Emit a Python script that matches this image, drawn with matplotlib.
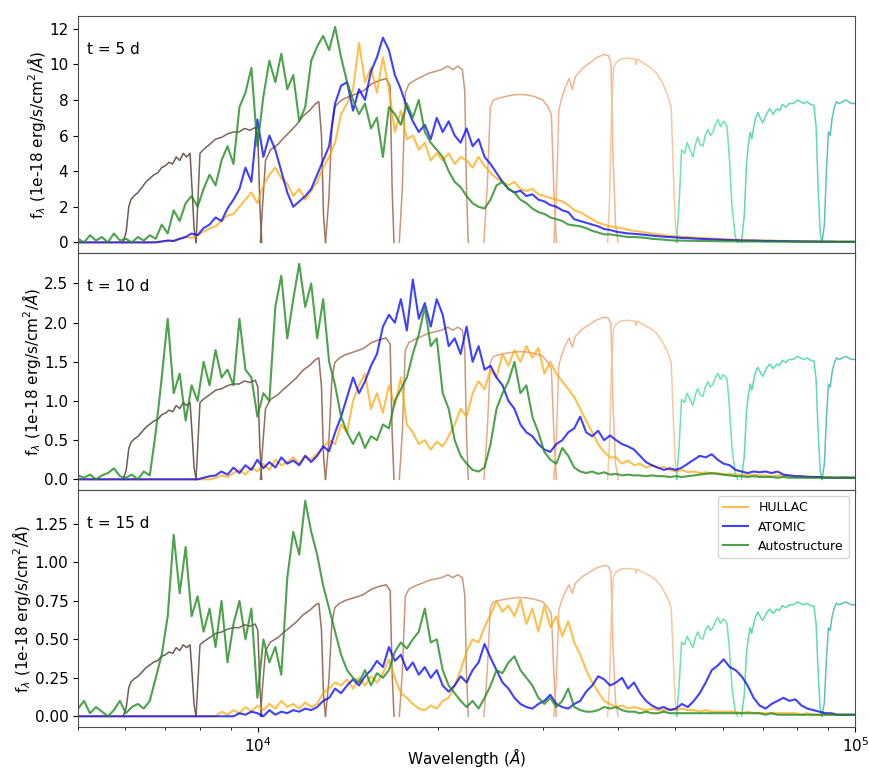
import numpy as np
import matplotlib
matplotlib.use("Agg")
import matplotlib.pyplot as plt
from matplotlib.ticker import MultipleLocator

# common log-spaced wavelength grid (Angstrom), 131 samples from 5000 to 1e5
wave = np.geomspace(5000, 1e5, 131)

epochs = ['t = 5 d', 't = 10 d', 't = 15 d']

# ---- t = 5 d ----
hullac_5 = [0, 0, 0, 0, 0, 0, 0, 0, 0, 0,
            0, 0, 0, 0.02, 0.05, 0.1, 0.08, 0.2, 0.3, 0.25,
            0.4, 0.6, 0.8, 0.9, 1.2, 1.5, 1.6, 2.0, 2.4, 2.8,
            2.2, 3.2, 3.8, 4.2, 3.6, 3.3, 2.6, 3.0, 2.4, 2.9,
            3.4, 4.2, 4.8, 5.6, 7.2, 7.8, 8.6, 11.2, 9.0, 9.8,
            8.4, 10.4, 8.6, 6.2, 7.4, 5.8, 6.0, 5.2, 5.6, 4.6,
            5.0, 4.6, 5.0, 4.4, 4.8, 4.6, 4.2, 4.8, 4.3, 3.9,
            3.6, 3.4, 3.2, 3.4, 3.0, 2.9, 3.0, 2.7, 2.6, 2.5,
            2.4, 2.3, 2.1, 1.8, 1.7, 1.5, 1.3, 1.1, 1.0, 0.9,
            0.85, 0.8, 0.7, 0.65, 0.6, 0.55, 0.5, 0.45, 0.4, 0.36,
            0.34, 0.3, 0.31, 0.26, 0.25, 0.22, 0.23, 0.19, 0.18, 0.16,
            0.15, 0.14, 0.13, 0.12, 0.11, 0.1, 0.1, 0.09, 0.08, 0.08,
            0.07, 0.07, 0.06, 0.06, 0.05, 0.05, 0.05, 0.04, 0.04, 0.04,
            0.04]
atomic_5 = [0, 0, 0, 0, 0, 0, 0, 0, 0, 0,
            0, 0, 0, 0, 0.05, 0.1, 0.08, 0.2, 0.3, 0.5,
            0.4, 0.8, 1.0, 1.4, 1.2, 1.9, 2.4, 3.0, 4.2, 3.4,
            6.9, 4.8, 6.0, 5.2, 4.0, 2.8, 2.0, 2.3, 2.6, 3.0,
            3.8, 4.6, 5.4, 7.8, 8.8, 9.0, 7.4, 8.6, 8.0, 9.6,
            10.4, 11.5, 10.8, 9.4, 8.6, 7.6, 6.8, 6.2, 6.6, 5.8,
            7.0, 6.2, 6.8, 6.0, 5.6, 6.4, 5.4, 5.8, 4.8, 4.4,
            3.9, 3.4, 3.0, 2.8, 2.9, 2.6, 2.7, 2.4, 2.3, 2.1,
            2.0, 1.8, 1.7, 1.3, 1.2, 1.1, 1.0, 0.9, 0.75, 0.7,
            0.6, 0.55, 0.5, 0.48, 0.45, 0.42, 0.38, 0.35, 0.32, 0.3,
            0.28, 0.25, 0.24, 0.22, 0.2, 0.19, 0.17, 0.16, 0.14, 0.13,
            0.12, 0.11, 0.1, 0.1, 0.09, 0.08, 0.08, 0.07, 0.07, 0.06,
            0.06, 0.05, 0.05, 0.05, 0.04, 0.04, 0.04, 0.03, 0.03, 0.03,
            0.03]
auto_5 = [0.2, 0.0, 0.4, 0.1, 0.3, 0.0, 0.5, 0.1, 0.2, 0.0,
          0.3, 0.1, 0.4, 0.2, 1.0, 0.5, 1.8, 1.2, 2.2, 2.6,
          2.0, 3.0, 3.8, 3.2, 4.6, 5.4, 4.4, 7.6, 8.4, 9.8,
          5.4, 8.2, 10.2, 9.0, 10.6, 8.6, 9.4, 6.8, 7.6, 10.2,
          11.0, 11.6, 10.8, 12.1, 10.4, 9.0, 8.0, 7.2, 7.8, 6.4,
          7.0, 4.8, 7.6, 7.2, 6.6, 7.8, 7.0, 8.0, 6.2, 5.6,
          5.2, 4.8, 4.0, 3.4, 3.1, 2.6, 2.2, 2.0, 1.9, 2.4,
          3.2, 3.4, 3.0, 2.8, 2.4, 2.2, 1.9, 1.7, 1.6, 1.4,
          1.3, 1.2, 1.0, 0.95, 0.9, 0.8, 0.65, 0.55, 0.45, 0.45,
          0.4, 0.35, 0.3, 0.3, 0.28, 0.25, 0.2, 0.18, 0.15, 0.12,
          0.1, 0.1, 0.09, 0.09, 0.08, 0.08, 0.07, 0.07, 0.06, 0.06,
          0.06, 0.05, 0.05, 0.05, 0.05, 0.04, 0.04, 0.04, 0.04, 0.04,
          0.03, 0.03, 0.03, 0.03, 0.03, 0.03, 0.03, 0.03, 0.03, 0.03,
          0.03]

# ---- t = 10 d ----
hullac_10 = [0, 0, 0, 0, 0, 0, 0, 0, 0, 0,
             0, 0, 0, 0, 0, 0, 0, 0, 0, 0,
             0, 0, 0, 0.02, 0.05, 0.03, 0.08, 0.12, 0.06, 0.15,
             0.1, 0.2, 0.12, 0.25, 0.18, 0.22, 0.28, 0.2, 0.3, 0.25,
             0.33, 0.4, 0.5, 0.45, 0.7, 0.6, 1.0, 1.2, 1.35, 0.9,
             1.1, 0.85, 1.2, 0.95, 1.3, 0.7, 0.6, 0.45, 0.5, 0.38,
             0.48, 0.42, 0.55, 0.7, 0.9, 0.8, 1.1, 1.25, 1.15, 1.4,
             1.3, 1.6, 1.45, 1.65, 1.5, 1.7, 1.55, 1.68, 1.35, 1.5,
             1.35, 1.25, 1.15, 1.05, 0.9, 0.75, 0.6, 0.45, 0.35, 0.28,
             0.28, 0.2, 0.24, 0.18, 0.2, 0.15, 0.18, 0.14, 0.16, 0.12,
             0.1, 0.12, 0.09, 0.1, 0.08, 0.09, 0.07, 0.08, 0.06, 0.07,
             0.06, 0.06, 0.05, 0.06, 0.05, 0.05, 0.04, 0.05, 0.04, 0.04,
             0.04, 0.03, 0.04, 0.03, 0.03, 0.03, 0.03, 0.02, 0.03, 0.02,
             0.02]
atomic_10 = [0, 0, 0, 0, 0, 0, 0, 0, 0, 0,
             0, 0, 0, 0, 0, 0, 0, 0, 0, 0,
             0, 0.02, 0.04, 0.05, 0.1, 0.06, 0.15, 0.08, 0.18, 0.12,
             0.25, 0.14, 0.22, 0.15, 0.28, 0.2, 0.24, 0.18, 0.3, 0.22,
             0.3, 0.42, 0.36, 0.6, 0.8, 1.05, 1.3, 1.1, 1.25, 1.45,
             1.6, 1.95, 2.1, 2.0, 2.3, 1.9, 2.55, 2.05, 2.25, 1.95,
             2.3, 2.1, 1.7, 1.8, 1.6, 1.95, 1.5, 1.7, 1.4, 1.45,
             1.3, 1.2, 1.0, 0.9, 0.7, 0.6, 0.55, 0.45, 0.38, 0.35,
             0.45, 0.5, 0.6, 0.65, 0.8, 0.6, 0.55, 0.62, 0.5, 0.56,
             0.5, 0.45, 0.42, 0.38, 0.3, 0.22, 0.18, 0.15, 0.12, 0.14,
             0.12, 0.15, 0.2, 0.25, 0.3, 0.28, 0.32, 0.25, 0.2, 0.18,
             0.12, 0.1, 0.08, 0.1, 0.09, 0.1, 0.08, 0.1, 0.06, 0.05,
             0.04, 0.04, 0.03, 0.03, 0.03, 0.02, 0.02, 0.02, 0.02, 0.02,
             0.02]
auto_10 = [0.05, 0.02, 0.06, 0.0, 0.05, 0.08, 0.14, 0.04, 0.02, 0.06,
           0.0, 0.1, 0.05, 0.6, 1.3, 2.05, 1.1, 1.35, 0.75, 1.2,
           1.0, 1.5, 1.2, 1.65, 1.3, 1.4, 1.2, 2.05, 1.4, 1.3,
           0.8, 1.1, 1.0, 2.2, 2.6, 1.8, 2.3, 2.75, 2.2, 2.5,
           1.8, 2.3, 1.5, 1.2, 0.8, 0.6, 0.45, 0.6, 0.4, 0.55,
           0.5, 0.7, 0.65, 1.0, 1.15, 1.3, 1.6, 1.85, 2.2, 1.7,
           1.8, 1.1, 0.9, 0.5, 0.3, 0.2, 0.12, 0.1, 0.15, 0.45,
           0.9, 1.1, 1.25, 1.5, 1.1, 1.2, 0.8, 0.6, 0.35, 0.25,
           0.2, 0.4, 0.3, 0.15, 0.1, 0.08, 0.1, 0.07, 0.09, 0.06,
           0.07, 0.05, 0.06, 0.05, 0.05, 0.04, 0.05, 0.04, 0.04, 0.03,
           0.04, 0.03, 0.04, 0.05, 0.06, 0.07, 0.08, 0.07, 0.06, 0.05,
           0.04, 0.04, 0.03, 0.04, 0.03, 0.03, 0.03, 0.02, 0.03, 0.02,
           0.02, 0.02, 0.02, 0.02, 0.02, 0.02, 0.02, 0.02, 0.02, 0.02,
           0.02]

# ---- t = 15 d ----
hullac_15 = [0, 0, 0, 0, 0, 0, 0, 0, 0, 0,
             0, 0, 0, 0, 0, 0, 0, 0, 0, 0,
             0, 0, 0, 0, 0.03, 0.01, 0.04, 0.02, 0.06, 0.03,
             0.07, 0.04, 0.08, 0.05, 0.1, 0.06, 0.08, 0.05, 0.09, 0.06,
             0.08, 0.15, 0.18, 0.22, 0.2, 0.24, 0.18, 0.25, 0.2, 0.26,
             0.22, 0.28, 0.37, 0.25, 0.15, 0.12, 0.08, 0.05, 0.04, 0.07,
             0.05, 0.1, 0.12, 0.2, 0.3, 0.42, 0.5, 0.48, 0.58, 0.66,
             0.75, 0.68, 0.72, 0.65, 0.76, 0.6, 0.7, 0.55, 0.72, 0.58,
             0.65, 0.52, 0.62, 0.48, 0.4, 0.3, 0.22, 0.16, 0.1, 0.08,
             0.06, 0.07, 0.05, 0.06, 0.05, 0.04, 0.05, 0.04, 0.04, 0.05,
             0.04, 0.05, 0.04, 0.04, 0.03, 0.04, 0.03, 0.03, 0.03, 0.03,
             0.03, 0.02, 0.03, 0.02, 0.02, 0.02, 0.02, 0.02, 0.02, 0.02,
             0.02, 0.01, 0.02, 0.01, 0.01, 0.01, 0.01, 0.01, 0.01, 0.01,
             0.01]
atomic_15 = [0, 0, 0, 0, 0, 0, 0, 0, 0, 0,
             0, 0, 0, 0, 0, 0, 0, 0, 0, 0,
             0, 0, 0, 0, 0, 0, 0, 0.02, 0.01, 0.03,
             0.02, 0.0, 0.04, 0.01, 0.03, 0.02, 0.04, 0.03, 0.05, 0.04,
             0.06, 0.1, 0.12, 0.18, 0.15, 0.2, 0.24, 0.2, 0.26, 0.3,
             0.36, 0.32, 0.45, 0.36, 0.4, 0.3, 0.35, 0.27, 0.32, 0.25,
             0.3, 0.2, 0.16, 0.2, 0.26, 0.22, 0.3, 0.35, 0.47, 0.38,
             0.3, 0.22, 0.18, 0.12, 0.08, 0.06, 0.05, 0.08, 0.1, 0.14,
             0.08, 0.06, 0.05, 0.08, 0.1, 0.16, 0.2, 0.26, 0.24, 0.2,
             0.22, 0.25, 0.18, 0.22, 0.15, 0.1, 0.07, 0.05, 0.06, 0.04,
             0.05, 0.08, 0.06, 0.1, 0.15, 0.22, 0.3, 0.33, 0.37, 0.32,
             0.3, 0.26, 0.2, 0.12, 0.07, 0.05, 0.08, 0.1, 0.12, 0.1,
             0.11, 0.07, 0.05, 0.04, 0.03, 0.02, 0.02, 0.01, 0.01, 0.01,
             0.01]
auto_15 = [0.05, 0.1, 0.02, 0.06, 0.03, 0.0, 0.04, 0.1, 0.02, 0.06,
           0.08, 0.05, 0.1, 0.25, 0.4, 0.65, 1.18, 0.8, 1.1, 0.65,
           0.78, 0.55, 0.7, 0.45, 0.75, 0.35, 0.6, 0.75, 0.5, 0.7,
           0.12, 0.5, 0.35, 0.45, 0.27, 0.9, 1.2, 1.05, 1.4, 1.2,
           1.05, 0.85, 0.7, 0.55, 0.4, 0.3, 0.25, 0.22, 0.3, 0.2,
           0.28, 0.25, 0.3, 0.42, 0.48, 0.44, 0.5, 0.55, 0.7, 0.48,
           0.5, 0.3, 0.2, 0.15, 0.1, 0.06, 0.1, 0.05, 0.12, 0.2,
           0.3, 0.28, 0.35, 0.39, 0.3, 0.25, 0.2, 0.12, 0.08, 0.12,
           0.06, 0.1, 0.18, 0.06, 0.04, 0.03, 0.03, 0.04, 0.06, 0.05,
           0.06, 0.04, 0.03, 0.03, 0.02, 0.03, 0.02, 0.02, 0.03, 0.02,
           0.02, 0.02, 0.02, 0.02, 0.02, 0.02, 0.02, 0.02, 0.02, 0.02,
           0.02, 0.02, 0.02, 0.02, 0.02, 0.01, 0.02, 0.01, 0.01, 0.01,
           0.01, 0.01, 0.01, 0.01, 0.01, 0.01, 0.01, 0.01, 0.01, 0.01,
           0.01]

hullac = [hullac_5, hullac_10, hullac_15]
atomic = [atomic_5, atomic_10, atomic_15]
auto = [auto_5, auto_10, auto_15]

# JWST broad-band throughputs (arbitrary units, F356W peak ~10.55)
filt_names = ['F070W', 'F090W', 'F115W', 'F150W', 'F200W', 'F277W',
              'F356W', 'F444W', 'F560W', 'F770W', 'F1000W']
filt_colors = ['#5c4a44', '#6e5248', '#8a5e4c', '#a66c52', '#c48c6c', '#e6a27c',
               '#f0b088', '#f6c492', '#5ce0a8', '#4cd6ac', '#4cbab6']
filt_wave = [
    [5950, 6020, 6080, 6130, 6200, 6300, 6400, 6500, 6600, 6700, 6800, 6900,
     7000, 7100, 7200, 7300, 7400, 7500, 7600, 7700, 7760, 7820, 7880],
    [7880, 7940, 8000, 8100, 8300, 8500, 8700, 8900, 9100, 9300, 9500, 9700,
     9900, 10000, 10080, 10150],
    [10100, 10180, 10300, 10500, 10800, 11000, 11300, 11600, 11900, 12200,
     12500, 12650, 12780, 12880, 12980],
    [12980, 13150, 13300, 13450, 13700, 14000, 14500, 15000, 15500, 16000,
     16400, 16650, 16780, 16900],
    [17250, 17450, 17650, 17900, 18300, 18800, 19300, 19800, 20300, 20800,
     21200, 21600, 22000, 22200, 22350, 22500],
    [23900, 24200, 24500, 24800, 25300, 26000, 27000, 28000, 29000, 30000,
     30600, 31000, 31300, 31600],
    [31300, 31600, 31900, 32200, 32700, 33200, 33600, 34000, 35000, 36000,
     37000, 38000, 38600, 39000, 39300, 39700, 40100],
    [38500, 38800, 39100, 39400, 39800, 40500, 41500, 42500, 42800, 43000,
     43200, 44500, 45500, 46500, 47500, 48500, 49200, 49600, 50000, 50400],
    [50200, 50700, 51200, 51800, 52300, 52900, 53500, 54000, 54500, 55000,
     55600, 56100, 56700, 57200, 57800, 58300, 58900, 59500, 60100, 60600,
     61000, 61500, 62200, 63000, 63600],
    [64500, 65200, 65800, 66300, 66700, 67100, 67500, 68000, 68700, 69300,
     70000, 71000, 71900, 72900, 73900, 74700, 75500, 76500, 77600, 78800,
     80000, 81000, 82000, 83000, 84200, 85300, 86000, 86700, 87400, 88000],
    [88000, 88800, 89500, 90200, 90800, 91500, 92300, 93000, 94000, 95200,
     96500, 97500, 98500, 100000, 102000],
]
filt_thru = [
    [0, 0.6, 2.0, 2.4, 2.6, 2.8, 3.1, 3.4, 3.6, 3.8, 3.9, 4.2,
     4.3, 4.5, 4.4, 4.8, 4.6, 5.0, 4.8, 5.0, 3.0, 0.8, 0],
    [0, 2.5, 5.0, 5.2, 5.5, 5.8, 5.9, 6.1, 6.2, 6.2, 6.4, 6.3,
     6.45, 6.0, 2.0, 0],
    [0, 2.0, 4.6, 5.2, 5.5, 5.8, 6.2, 6.6, 7.1, 7.4, 7.8, 7.9, 6.0, 1.5, 0],
    [0, 2.5, 6.5, 7.6, 7.9, 8.1, 8.3, 8.5, 8.9, 9.1, 9.2, 8.8, 3.0, 0],
    [0, 3.0, 8.4, 8.9, 9.1, 9.3, 9.5, 9.6, 9.7, 9.9, 9.7, 9.9, 9.7, 8.5, 3.0, 0],
    [0, 3.0, 7.6, 8.0, 8.1, 8.2, 8.3, 8.3, 8.2, 8.0, 7.6, 7.2, 3.0, 0],
    [0, 2.5, 7.4, 8.0, 8.7, 9.2, 8.6, 9.3, 9.8, 10.1, 10.4, 10.55, 10.5,
     10.1, 5.0, 1.0, 0],
    [0, 2.5, 7.5, 9.8, 10.1, 10.3, 10.35, 10.3, 10.3, 10.0, 10.3, 10.0, 9.8,
     9.5, 9.0, 8.3, 7.6, 4.0, 1.0, 0],
    [0, 2.0, 5.2, 5.0, 5.6, 5.2, 4.8, 5.5, 5.9, 5.5, 5.4, 6.0, 6.35, 6.0,
     6.2, 6.6, 6.9, 6.5, 6.8, 6.7, 6.5, 5.0, 2.0, 0.3, 0],
    [0, 1.5, 4.5, 5.6, 6.2, 5.8, 6.3, 6.9, 7.3, 7.0, 6.7, 7.2, 7.5, 7.2,
     7.5, 7.4, 7.75, 7.6, 7.8, 7.8, 8.0, 7.9, 7.8, 7.9, 7.75, 7.7, 6.5,
     3.0, 0.5, 0],
    [0, 1.0, 4.0, 6.2, 6.0, 7.0, 7.6, 7.9, 7.8, 7.9, 8.0, 7.9, 7.8, 7.8, 7.9],
]
# height of the F356W curve in each panel
filt_height = [10.55, 2.07, 0.98]
yticks_step = [2, 0.5, 0.25]

fig, axes = plt.subplots(3, 1, figsize=(8.7, 7.71), dpi=100, sharex=True)
fig.subplots_adjust(left=0.0897, right=0.983, top=0.979, bottom=0.057, hspace=0)

for k, ax in enumerate(axes):
    scale = filt_height[k] / 10.55
    for w, t, c in zip(filt_wave, filt_thru, filt_colors):
        ax.plot(w, np.array(t) * scale, color=c, lw=1.1, alpha=0.9)
    ax.plot(wave, hullac[k], color='orange', alpha=0.7, lw=1.5, label='HULLAC')
    ax.plot(wave, atomic[k], color='blue', alpha=0.75, lw=1.5, label='ATOMIC')
    ax.plot(wave, auto[k], color='forestgreen', alpha=0.8, lw=1.5, label='Autostructure')
    ax.set_xscale('log')
    ax.set_xlim(5000, 1e5)
    ax.yaxis.set_major_locator(MultipleLocator(yticks_step[k]))
    ax.text(0.012, 0.86, epochs[k], transform=ax.transAxes, fontsize=11, va='center')
    ax.set_ylabel(r'f$_\lambda$ (1e-18 erg/s/cm$^2$/$\AA$)', fontsize=11, labelpad=1)
    ax.tick_params(labelsize=11)
    for s in ax.spines.values():
        s.set_color('0.3')

axes[2].legend(loc='upper right', fontsize=9)
axes[2].set_xlabel(r'Wavelength ($\AA$)', fontsize=11, labelpad=-7)

fig.savefig('out.png', dpi=100)
